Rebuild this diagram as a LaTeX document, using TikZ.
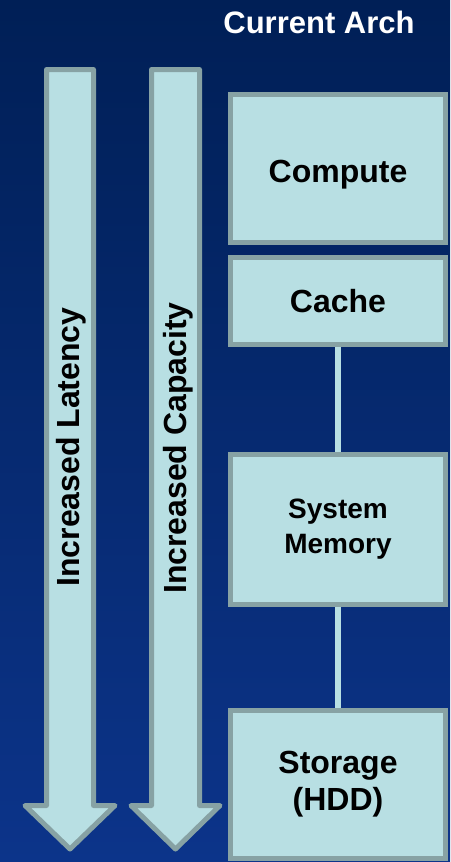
\documentclass[tikz,border=0pt]{standalone}
\usepackage{fontspec}
\setmainfont{Liberation Sans}
\usetikzlibrary{positioning}
\definecolor{fundoTopo}{RGB}{0,31,86}
\definecolor{fundoBase}{RGB}{12,52,138}
\definecolor{caixaFill}{RGB}{184,223,227}
\definecolor{caixaBorda}{RGB}{135,162,164}
\begin{document}
\begin{tikzpicture}[
    x=1pt, y=-1pt,
    bloco/.style={rectangle, draw=caixaBorda, fill=caixaFill, line width=5pt, minimum width=215pt, inner sep=0pt, align=center, font=\fontsize{32}{37}\selectfont\bfseries},
    seta/.style={draw=caixaBorda, fill=caixaFill, line width=5pt, line join=round},
    rotulo/.style={rotate=90, inner sep=0pt, font=\fontsize{32}{37}\selectfont\bfseries},
    ligacao/.style={draw=caixaFill, line width=6pt} % linha entre os blocos
    ]
    \shade[top color=fundoTopo, bottom color=fundoBase] (0,0) rectangle (450,862);
    \useasboundingbox (0,0) rectangle (450,862);

    \node[font=\fontsize{31}{36}\selectfont\bfseries, text=white] (titulo) at (319,22) {Current Arch};

    % setas verticais
    \draw[seta] (46.5,69.5) -- (93.5,69.5) -- (93.5,805.5) -- (115,805.5) -- (70,849) -- (25,805.5) -- (46.5,805.5) -- cycle;
    \draw[seta] (151.5,69.5) -- (199.5,69.5) -- (199.5,805.5) -- (220,805.5) -- (175.5,849) -- (131,805.5) -- (151.5,805.5) -- cycle;
    \node[rotulo] (latencia) at (71,447) {Increased Latency};
    \node[rotulo] (capacidade) at (178,448) {Increased Capacity};

    % hierarquia de memoria
    \node[bloco, minimum height=148pt, text height=28pt, text depth=0pt] (compute) at (338,168.5) {Compute}; % texto um pouco abaixo do centro
    \node[bloco, minimum height=87pt, below=10pt of compute] (cache) {Cache};
    \node[bloco, minimum height=150pt, below=105pt of cache, font=\fontsize{28}{35}\selectfont\bfseries] (sysmem) {System\\Memory};
    \node[bloco, minimum height=148pt, below=101pt of sysmem] (storage) {Storage\\(HDD)};

    \draw[ligacao] (cache.south) -- (sysmem.north);
    \draw[ligacao] (sysmem.south) -- (storage.north);
\end{tikzpicture}
\end{document}
